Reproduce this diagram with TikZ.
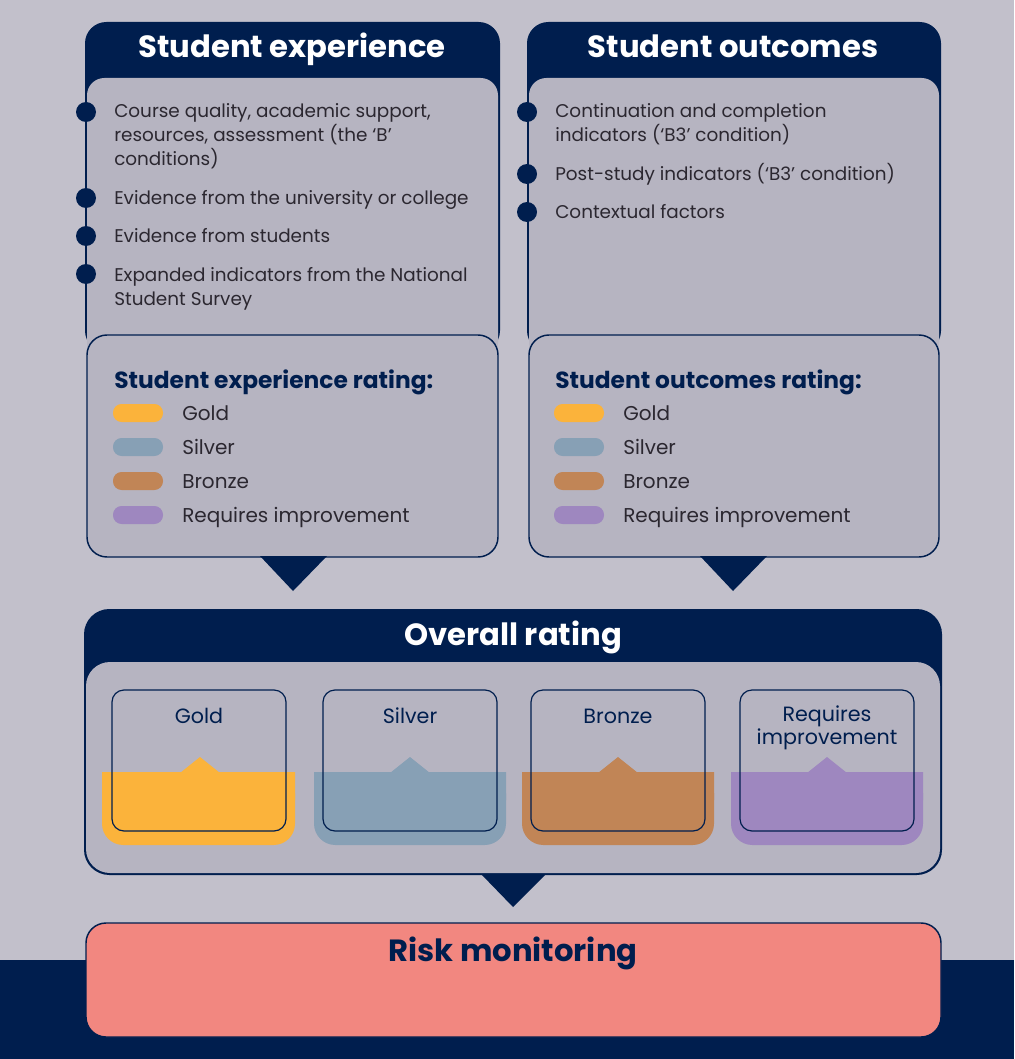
\documentclass[tikz,border=0pt]{standalone}
\usepackage{fontspec}
\setmainfont{Poppins}
\usepackage{tikz}

\definecolor{navy}{HTML}{001E4E}
\definecolor{backgr}{HTML}{C2C0CB}
\definecolor{panel}{HTML}{B6B4C1}
\definecolor{gold}{HTML}{FBB33B}
\definecolor{silver}{HTML}{87A0B5}
\definecolor{bronze}{HTML}{C18556}
\definecolor{improve}{HTML}{9E87BF}
\definecolor{risk}{HTML}{F28780}
\definecolor{bodytext}{HTML}{2B2730}

\tikzset{
  head/.style={text=white,font=\bfseries\fontsize{23}{27}\selectfont,inner sep=0.75pt,anchor=base},
  item/.style={text=bodytext,font=\fontsize{13.8}{18}\selectfont,inner sep=0.75pt,anchor=base west,align=left},
  legend/.style={text=bodytext,font=\fontsize{15}{18}\selectfont,inner sep=0.75pt,anchor=base west},
  rtitle/.style={text=navy,font=\bfseries\fontsize{17.5}{20}\selectfont,inner sep=0.75pt,anchor=base west},
  pill/.style={rounded corners=6.5pt},
  card/.style={draw=navy,line width=0.9pt,rounded corners=9pt},
  cardlbl/.style={text=navy,font=\fontsize{15.5}{15.75}\selectfont,inner sep=0.75pt,anchor=base,align=center},
  frame/.style={draw=navy,line width=1.1pt,fill=panel,rounded corners=15pt}
}

\begin{document}
\begin{tikzpicture}[x=0.75pt,y=0.75pt,yscale=-1,xscale=1]
\path[use as bounding box] (0,0) rectangle (1014,1059);

%Background
\fill[backgr] (0,0) rectangle (1014,1059);
\fill[navy] (0,960) rectangle (1014,1059);

%Panel: Student experience
\fill[navy,rounded corners=16pt] (85,22) rectangle (500,352);
\fill[panel,rounded corners=13pt] (87,78) rectangle (498,360);
\draw[frame] (87,335) rectangle (498,557);
\fill[navy] (260,556) -- (327,556) -- (293,591) -- cycle;
%Bullets
\fill[navy] (86,112) circle (10);
\fill[navy] (86,198) circle (10);
\fill[navy] (86,236) circle (10);
\fill[navy] (86,274) circle (10);

%Panel: Student outcomes
\fill[navy,rounded corners=16pt] (527,22) rectangle (941,352);
\fill[panel,rounded corners=13pt] (529,78) rectangle (939,360);
\draw[frame] (529,335) rectangle (939,557);
\fill[navy] (700,556) -- (767,556) -- (733,591) -- cycle;
%Bullets
\fill[navy] (527,112) circle (10);
\fill[navy] (527,174) circle (10);
\fill[navy] (527,212) circle (10);

% Text Node
\draw (292,58) node [head] (sehead) {Student experience};
\draw (113,166) node [item] (seitema) {Course quality, academic support,\\resources, assessment (the ‘B’\\conditions)};
\draw (113,205) node [item] (seitemb) {Evidence from the university or college};
\draw (113,243) node [item] (seitemc) {Evidence from students};
\draw (113,305) node [item] (seitemd) {Expanded indicators from the National\\Student Survey};
\draw (113,388) node [rtitle] (serating) {Student experience rating:};

% Text Node
\draw (733,58) node [head] (sohead) {Student outcomes};
\draw (554,142) node [item] (soitema) {Continuation and completion\\indicators (‘B3’ condition)};
\draw (554,181) node [item] (soitemb) {Post-study indicators (‘B3’ condition)};
\draw (554,219) node [item] (soitemc) {Contextual factors};
\draw (554,388) node [rtitle] (sorating) {Student outcomes rating:};

%Rating pills
\fill[pill,gold] (113,404) rectangle (163,422);
\fill[pill,silver] (113,438) rectangle (163,456);
\fill[pill,bronze] (113,472) rectangle (163,490);
\fill[pill,improve] (113,506) rectangle (163,524);
\fill[pill,gold] (554,404) rectangle (604,422);
\fill[pill,silver] (554,438) rectangle (604,456);
\fill[pill,bronze] (554,472) rectangle (604,490);
\fill[pill,improve] (554,506) rectangle (604,524);
\draw (181,420) node [legend] (segold) {Gold};
\draw (181,454) node [legend] (sesilver) {Silver};
\draw (181,488) node [legend] (sebronze) {Bronze};
\draw (181,522) node [legend] (seimprove) {Requires improvement};
\draw (622,420) node [legend] (sogold) {Gold};
\draw (622,454) node [legend] (sosilver) {Silver};
\draw (622,488) node [legend] (sobronze) {Bronze};
\draw (622,522) node [legend] (soimprove) {Requires improvement};

%Panel: Overall rating
\fill[navy,rounded corners=19pt] (84,609) rectangle (942,875);
\fill[panel,rounded corners=18pt] (86,662) rectangle (940,873);
\fill[navy] (481,874) -- (546,874) -- (513,907) -- cycle;
\draw (513,645) node [head] (ovhead) {Overall rating};

%Cards
\fill[gold,rounded corners=16pt] (102,772) rectangle (295,845);
\fill[gold] (102,772) rectangle (295,800) (180,773) -- (200,757) -- (220,773) -- cycle;
\fill[silver,rounded corners=16pt] (314,772) rectangle (506,845);
\fill[silver] (314,772) rectangle (506,800) (390,773) -- (410,757) -- (430,773) -- cycle;
\fill[bronze,rounded corners=16pt] (522,772) rectangle (714,845);
\fill[bronze] (522,772) rectangle (714,800) (598,773) -- (618,757) -- (638,773) -- cycle;
\fill[improve,rounded corners=16pt] (731,772) rectangle (923,845);
\fill[improve] (731,772) rectangle (923,800) (807,773) -- (827,757) -- (847,773) -- cycle;
\draw[card] (112,690) rectangle (286,831);
\draw[card] (323,690) rectangle (497,831);
\draw[card] (531,690) rectangle (705,831);
\draw[card] (740,690) rectangle (914,831);
\draw (199,723) node [cardlbl] (cdgold) {Gold};
\draw (410,723) node [cardlbl] (cdsilver) {Silver};
\draw (618,723) node [cardlbl] (cdbronze) {Bronze};
\draw (827,744) node [cardlbl] (cdimprove) {Requires\\improvement};

%Risk monitoring
\draw[navy,line width=1.1pt,fill=risk,rounded corners=15pt] (86,923) rectangle (941,1037);
\draw (513,961) node [head,text=navy] (risk) {Risk monitoring};

\end{tikzpicture}
\end{document}
